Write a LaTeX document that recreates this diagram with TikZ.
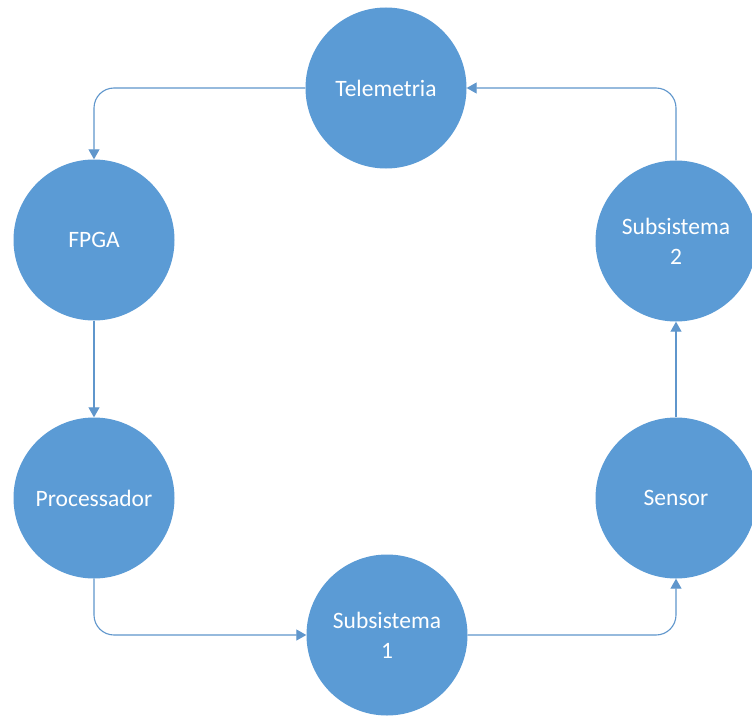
\documentclass[tikz,border=0pt]{standalone}
\usepackage{fontspec}
\setmainfont{Carlito}
\usetikzlibrary{arrows.meta}
\definecolor{nodeblue}{HTML}{5B9BD5}
\definecolor{linkblue}{HTML}{5F96CC}
\tikzset{
  stage/.style={circle, fill=nodeblue, draw=none, minimum size=161pt, inner sep=0pt,
    text=white, font=\fontsize{23.5}{30}\selectfont, align=center},
  link/.style={draw=linkblue, line width=1.1pt, rounded corners=20pt,
    -{Triangle[length=10pt,width=11pt]}}
}
\begin{document}
\begin{tikzpicture}[x=1pt, y=-1pt]
  \useasboundingbox[fill=white] (0,0) rectangle (752,717);
  \node[stage] (tel)    at (386,88)  {Telemetria};
  \node[stage] (fpga)   at (94,240)  {FPGA};
  \node[stage] (proc)   at (94,498)  {Processador};
  \node[stage] (sub1)   at (387,635) {Subsistema\\1};
  \node[stage] (sensor) at (676,498) {Sensor};
  \node[stage] (sub2)   at (676,241) {Subsistema\\2};

  \draw[link] (tel.west) -| (fpga.north);
  \draw[link] (fpga.south) -- (proc.north);
  \draw[link] (proc.south) |- (sub1.west);
  \draw[link] (sub1.east) -| (sensor.south);
  \draw[link] (sensor.north) -- (sub2.south);
  \draw[link] (sub2.north) |- (tel.east);
\end{tikzpicture}
\end{document}
